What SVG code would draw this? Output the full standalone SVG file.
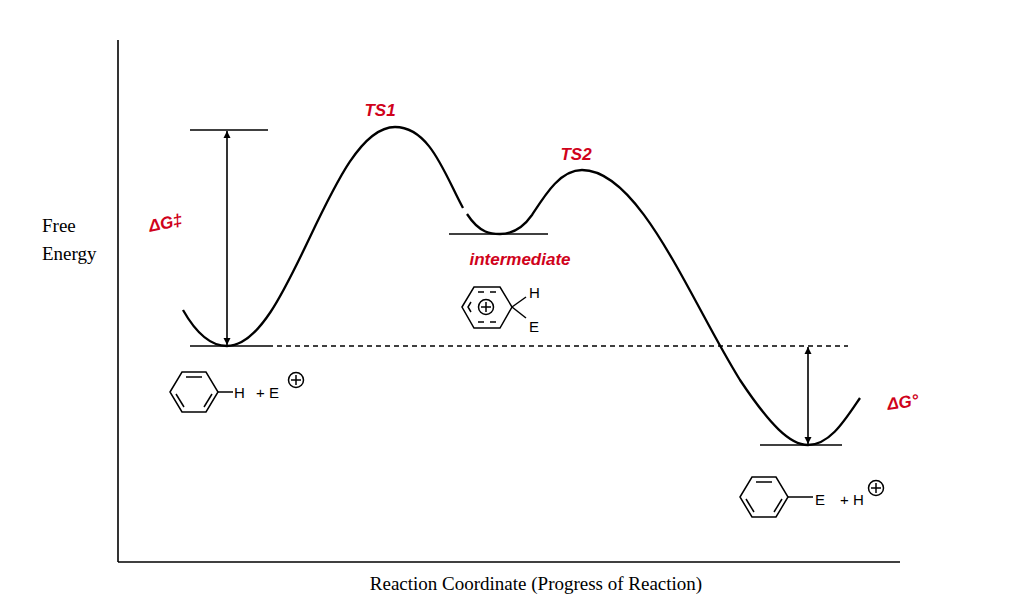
<svg xmlns="http://www.w3.org/2000/svg" width="1011" height="610" viewBox="0 0 1011 610">
<style>
.ln{stroke:#000;stroke-width:1.6;fill:none}
.cv{stroke:#000;stroke-width:2.3;fill:none}
.t{font-family:"Liberation Serif",serif;font-size:19px;fill:#000}
.s{font-family:"Liberation Sans",sans-serif;font-size:15px;fill:#000}
.r{font-family:"Liberation Sans",sans-serif;font-size:17px;fill:#d0021b;font-weight:bold;font-style:italic}
.bz{stroke:#000;stroke-width:1.5;fill:none}
</style>
<defs>
<marker id="ah" viewBox="0 0 10 10" refX="10" refY="5" markerWidth="7" markerHeight="10" orient="auto-start-reverse" markerUnits="userSpaceOnUse"><path d="M0,0 L10,5 L0,10 Z" fill="#000"/></marker>
<g id="benz"><polygon class="bz" points="-24,0 -12,-20 12,-20 24,0 12,20 -12,20"/><line class="bz" x1="-8" y1="-15" x2="8" y2="-15"/><line class="bz" x1="18" y1="2" x2="10" y2="15"/><line class="bz" x1="-18" y1="2" x2="-10" y2="15"/></g>
<g id="cplus"><circle r="7.5" class="bz"/><line class="bz" x1="-5" y1="0" x2="5" y2="0"/><line class="bz" x1="0" y1="-5" x2="0" y2="5"/></g>
</defs>
<rect width="1011" height="610" fill="#fff"/>
<g id="axes">
<line class="ln" x1="118" y1="40" x2="118" y2="562"/>
<line class="ln" x1="118" y1="562" x2="900" y2="562"/>
<text class="t" x="42" y="232">Free</text>
<text class="t" x="42" y="260">Energy</text>
<text class="t" x="536" y="590" text-anchor="middle">Reaction Coordinate (Progress of Reaction)</text>
</g>
<g id="connectors">
<path class="cv" d="M183,310 C200,340 215,346 227,346 C290,346 330,127 395,127 C430,127 445,175 463,208"/>
<path class="cv" d="M467,214 C480,234 492,234 500,234 C515,234 525,225 532,215 C545,195 560,170 582,170 C640,170 690,300 740,380 C770,425 790,445 808,445 C830,445 845,420 860,398"/>
<line class="ln" x1="190" y1="130" x2="268" y2="130"/>
<line class="ln" x1="190" y1="346" x2="268" y2="346"/>
<line class="ln" x1="268" y1="346" x2="848" y2="346" stroke-dasharray="5,4"/>
<line class="ln" x1="449" y1="234" x2="548" y2="234"/>
<line class="ln" x1="760" y1="445" x2="842" y2="445"/>
<line class="ln" x1="227" y1="131" x2="227" y2="345" marker-start="url(#ah)" marker-end="url(#ah)"/>
<line class="ln" x1="808" y1="347" x2="808" y2="444" marker-start="url(#ah)" marker-end="url(#ah)"/>
</g>
<g id="labels">
<text class="r" x="380" y="116" text-anchor="middle">TS1</text>
<text class="r" x="576" y="160" text-anchor="middle">TS2</text>
<text class="r" x="520" y="265" text-anchor="middle">intermediate</text>
<text class="r" x="150" y="232" transform="rotate(-12 150 232)" font-size="22">ΔG‡</text>
<text class="r" x="888" y="410" transform="rotate(-8 888 410)" font-size="22">ΔG°</text>
</g>
<g id="reactant">
<use href="#benz" x="194" y="392"/>
<line class="bz" x1="218" y1="392" x2="233" y2="392"/>
<text class="s" x="234" y="398">H</text>
<text class="s" x="256" y="398">+ E</text>
<use href="#cplus" x="296" y="380"/>
</g>
<g id="intermediate">
<polygon class="bz" points="462,307 474,287 500,287 512,307 500,328 474,328"/>
<path class="bz" d="M478,292 h6 M490,292 h6 M471,302 l-3,5 l3,5 M478,322 h6 M490,322 h6"/>
<use href="#cplus" x="486" y="307"/>
<line class="bz" x1="512" y1="307" x2="526" y2="297"/>
<line class="bz" x1="512" y1="307" x2="526" y2="318"/>
<text class="s" x="529" y="298">H</text>
<text class="s" x="529" y="332">E</text>
</g>
<g id="product">
<use href="#benz" x="764" y="497"/>
<line class="bz" x1="788" y1="497" x2="813" y2="497"/>
<text class="s" x="815" y="505">E</text>
<text class="s" x="840" y="505">+ H</text>
<use href="#cplus" x="876" y="488"/>
</g>
</svg>
